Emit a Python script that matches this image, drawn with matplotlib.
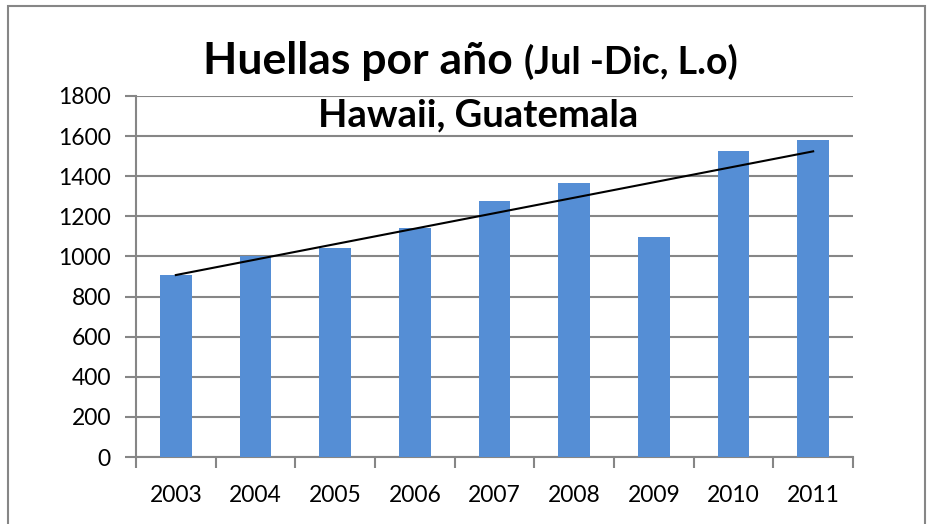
import matplotlib
matplotlib.use("Agg")
import matplotlib.pyplot as plt
from matplotlib.patches import Rectangle
import numpy as np

years = ['2003', '2004', '2005', '2006', '2007', '2008', '2009', '2010', '2011']
huellas = [905, 1000, 1042, 1142, 1278, 1367, 1099, 1525, 1583]
yticks = [0, 200, 400, 600, 800, 1000, 1200, 1400, 1600, 1800]

plt.rcParams['font.family'] = ['Lato', 'DejaVu Sans']

W, H = 934, 524
fig = plt.figure(figsize=(W / 100, H / 100), dpi=100)
ax = fig.add_axes([136 / W, 1 - 457 / H, (853 - 136) / W, (457 - 96) / H])

grid_color = '#868686'
x = np.arange(len(years))
ax.bar(x, huellas, width=0.4, color='#558ED5', zorder=3)

# linear trendline like Excel
coef = np.polyfit(x, huellas, 1)
ax.plot(x, np.polyval(coef, x), color='black', lw=1.5, zorder=4)

ax.set_xlim(-0.5, len(years) - 0.5)
ax.set_ylim(0, 1800)
ax.set_yticks(yticks)
ax.set_yticklabels([str(v) for v in yticks], fontsize=16.5)
ax.grid(axis='y', color=grid_color, lw=1.5, zorder=1)

ax.set_xticks(np.arange(-0.5, len(years), 1.0))
ax.set_xticklabels([])
ax.set_xticks(x, minor=True)
ax.set_xticklabels(years, minor=True, fontsize=16.5)
ax.tick_params(axis='x', which='major', length=8, width=1.5, color=grid_color, direction='out')
ax.tick_params(axis='x', which='minor', length=0, pad=20)
ax.tick_params(axis='y', length=8, width=1.5, color=grid_color, pad=10)

for s in ['top', 'right']:
    ax.spines[s].set_visible(False)
for s in ['left', 'bottom']:
    ax.spines[s].set_color(grid_color)
    ax.spines[s].set_linewidth(1.5)

# titles
fig.text(513 / W, 1 - 74 / H, 'Huellas por año', fontsize=32, fontweight='bold', ha='right', va='baseline')
fig.text(524 / W, 1 - 74 / H, '(Jul -Dic, L.o)', fontsize=27, fontweight='bold', ha='left', va='baseline')
fig.text(478 / W, 1 - 126 / H, 'Hawaii, Guatemala', fontsize=27.5, fontweight='bold', ha='center', va='baseline')

# chart border
fig.patches.append(Rectangle((8 / W, -0.1), (925 - 8) / W, 1.1 - 6 / H, transform=fig.transFigure,
                             fill=False, edgecolor='#868686', lw=1.5))

fig.savefig('out.png', dpi=100)
